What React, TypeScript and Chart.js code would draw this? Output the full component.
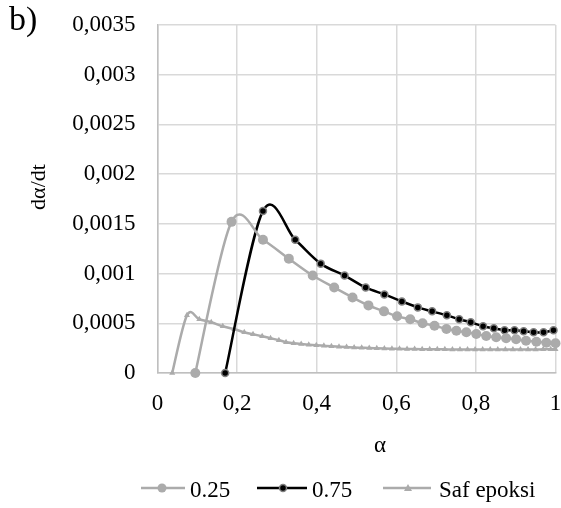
import React, { useEffect, useRef } from "react";
import { Chart, registerables } from "chart.js";

Chart.register(...registerables);

const seriesNames = ["0.25", "0.75", "Saf epoksi"];

const alpha025 = [0.095, 0.186, 0.265, 0.330, 0.390, 0.444, 0.490, 0.530, 0.569, 0.602, 0.635, 0.666, 0.696, 0.726, 0.751, 0.776, 0.801, 0.826, 0.851, 0.876, 0.901, 0.926, 0.952, 0.977, 1.0];
const rate025 = [0, 0.00152, 0.00134, 0.00115, 0.00098, 0.00086, 0.00076, 0.00068, 0.00062, 0.00057, 0.00054, 0.0005, 0.000476, 0.000443, 0.000425, 0.000409, 0.000392, 0.000372, 0.000359, 0.000349, 0.000339, 0.000325, 0.000315, 0.000305, 0.000299];

const alpha075 = [0.170, 0.265, 0.346, 0.41, 0.47, 0.523, 0.57, 0.614, 0.654, 0.69, 0.727, 0.758, 0.787, 0.818, 0.845, 0.872, 0.897, 0.92, 0.945, 0.97, 0.995];
const rate075 = [0, 0.00163, 0.00134, 0.0011, 0.00098, 0.00086, 0.00079, 0.00072, 0.00066, 0.00062, 0.00058, 0.00054, 0.00051, 0.00047, 0.00045, 0.00043, 0.00043, 0.00042, 0.00041, 0.00041, 0.00043];

const alphaSaf = [0.037, 0.074, 0.105, 0.135, 0.164, 0.193, 0.218, 0.24, 0.263, 0.284, 0.305, 0.323, 0.342, 0.361, 0.380, 0.399, 0.418, 0.437, 0.456, 0.475, 0.494, 0.513, 0.532, 0.551, 0.570, 0.589, 0.608, 0.627, 0.646, 0.665, 0.684, 0.703, 0.722, 0.741, 0.760, 0.779, 0.798, 0.817, 0.836, 0.855, 0.874, 0.893, 0.912, 0.931, 0.950, 0.969, 0.988, 1.0];
const rateSaf = [0, 0.00058, 0.00054, 0.00051, 0.00047, 0.00044, 0.00041, 0.00039, 0.00037, 0.00035, 0.00033, 0.00031, 0.0003, 0.000292, 0.000285, 0.000279, 0.000274, 0.000269, 0.000265, 0.000261, 0.000257, 0.000254, 0.000251, 0.000249, 0.000247, 0.000245, 0.000243, 0.000242, 0.000241, 0.00024, 0.000239, 0.000238, 0.000238, 0.000237, 0.000237, 0.000236, 0.000236, 0.000236, 0.000236, 0.000236, 0.000236, 0.000236, 0.000237, 0.000237, 0.000237, 0.000238, 0.000238, 0.000238];

const panelLabel = "b)";
const yTitle = "dα/dt";
const xTitle = "α";

const GRAY = "#ABABAB";
const FONT = "'Liberation Serif', 'Times New Roman', serif";

const toPts = (xs: number[], ys: number[]) => xs.map((x, i) => ({ x, y: ys[i] }));
const fmt = (v: number) => String(Number(Number(v).toFixed(5))).replace(".", ",");

const zeroPad = (s: any) => {
  s.paddingTop = 0;
  s.paddingBottom = 0;
  s.paddingLeft = 0;
  s.paddingRight = 0;
};

// Spreadsheet-style smoothing: control points at 1/6 of (next - prev)
const excelSmooth = {
  id: "excelSmooth",
  beforeDatasetsDraw(chart: any) {
    chart.data.datasets.forEach((_: any, di: number) => {
      const meta = chart.getDatasetMeta(di);
      const pts = meta.data;
      const n = pts.length;
      for (let i = 0; i < n; i++) {
        const p = pts[i];
        const prev = pts[Math.max(i - 1, 0)];
        const next = pts[Math.min(i + 1, n - 1)];
        const dx = (next.x - prev.x) / 6;
        const dy = (next.y - prev.y) / 6;
        p.cp1x = p.x - dx;
        p.cp1y = p.y - dy;
        p.cp2x = p.x + dx;
        p.cp2y = p.y + dy;
      }
      if (meta.dataset) meta.dataset._pointsUpdated = true;
    });
  },
};

const extras = {
  id: "extras",
  afterDraw(chart: any) {
    const ctx = chart.ctx;
    ctx.save();
    ctx.fillStyle = "#000";
    ctx.textAlign = "left";
    ctx.textBaseline = "alphabetic";
    ctx.font = `34px ${FONT}`;
    ctx.fillText(panelLabel, 9, 30);

    ctx.font = `22px ${FONT}`;
    ctx.save();
    ctx.translate(45, 187);
    ctx.rotate(-Math.PI / 2);
    ctx.textAlign = "center";
    ctx.fillText(yTitle, 0, 0);
    ctx.restore();

    ctx.font = `23px ${FONT}`;
    ctx.textAlign = "center";
    ctx.fillText(xTitle, 380, 452);

    // legend
    const ly = 488;
    const tb = 496.5;
    ctx.textAlign = "left";
    ctx.strokeStyle = GRAY;
    ctx.lineWidth = 2.5;
    ctx.beginPath(); ctx.moveTo(141, ly); ctx.lineTo(185, ly); ctx.stroke();
    ctx.fillStyle = GRAY;
    ctx.beginPath(); ctx.arc(162, ly, 4.5, 0, Math.PI * 2); ctx.fill();
    ctx.fillStyle = "#000";
    ctx.fillText(seriesNames[0], 190, tb);

    ctx.strokeStyle = "#000";
    ctx.beginPath(); ctx.moveTo(257, ly); ctx.lineTo(307, ly); ctx.stroke();
    ctx.fillStyle = "#000";
    ctx.strokeStyle = "#808080";
    ctx.lineWidth = 1.5;
    ctx.beginPath(); ctx.arc(283, ly, 3.5, 0, Math.PI * 2); ctx.fill(); ctx.stroke();
    ctx.fillText(seriesNames[1], 312, tb);

    ctx.strokeStyle = GRAY;
    ctx.lineWidth = 2.5;
    ctx.beginPath(); ctx.moveTo(383, ly); ctx.lineTo(431, ly); ctx.stroke();
    ctx.fillStyle = GRAY;
    ctx.beginPath(); ctx.moveTo(408, ly - 4); ctx.lineTo(412, ly + 3); ctx.lineTo(404, ly + 3); ctx.closePath(); ctx.fill();
    ctx.fillStyle = "#000";
    ctx.fillText(seriesNames[2], 439, tb);
    ctx.restore();
  },
};

export default function App() {
  const ref = useRef<HTMLCanvasElement | null>(null);
  useEffect(() => {
    if (!ref.current) return;
    const chart = new Chart(ref.current, {
      type: "line",
      data: {
        datasets: [
          {
            label: seriesNames[0],
            data: toPts(alpha025, rate025),
            borderColor: GRAY,
            backgroundColor: GRAY,
            borderWidth: 2.5,
            pointRadius: 5,
            pointBorderWidth: 0,
            pointBackgroundColor: GRAY,
            tension: 0.4,
            clip: 8,
          },
          {
            label: seriesNames[1],
            data: toPts(alpha075, rate075),
            borderColor: "#000",
            backgroundColor: "#000",
            borderWidth: 2.5,
            pointRadius: 3.5,
            pointBorderWidth: 1.5,
            pointBorderColor: "#808080",
            pointBackgroundColor: "#000",
            tension: 0.4,
            clip: 8,
          },
          {
            label: seriesNames[2],
            data: toPts(alphaSaf, rateSaf),
            borderColor: GRAY,
            backgroundColor: GRAY,
            borderWidth: 2.5,
            pointStyle: "triangle",
            pointRadius: 3.5,
            pointBorderWidth: 0,
            pointBackgroundColor: GRAY,
            tension: 0.4,
            clip: 8,
          },
        ],
      },
      options: {
        responsive: false,
        animation: false,
        devicePixelRatio: 1,
        layout: { padding: { top: 25, right: 5, left: 0, bottom: 0 } },
        plugins: { legend: { display: false }, tooltip: { enabled: false } },
        scales: {
          x: {
            type: "linear",
            min: 0,
            max: 1,
            ticks: { stepSize: 0.2, padding: 17, color: "#000", font: { family: FONT, size: 23 }, callback: (v: any) => fmt(v) },
            grid: { color: "#D9D9D9", lineWidth: 1.5, drawTicks: false },
            border: { color: "#BFBFBF", width: 1.5 },
            afterFit: (s: any) => { s.height = 135; zeroPad(s); },
          },
          y: {
            min: 0,
            max: 0.0035,
            ticks: { stepSize: 0.0005, padding: 22, color: "#000", font: { family: FONT, size: 23 }, callback: (v: any) => fmt(v) },
            grid: { color: "#D9D9D9", lineWidth: 1.5, drawTicks: false },
            border: { color: "#BFBFBF", width: 1.5 },
            afterFit: (s: any) => { s.width = 157.5; zeroPad(s); },
          },
        },
      },
      plugins: [excelSmooth, extras],
    });
    return () => chart.destroy();
  }, []);
  return (
    <canvas
      ref={ref}
      width={561}
      height={508}
      style={{ position: "absolute", left: 0, top: 0, width: 561, height: 508 }}
    />
  );
}
